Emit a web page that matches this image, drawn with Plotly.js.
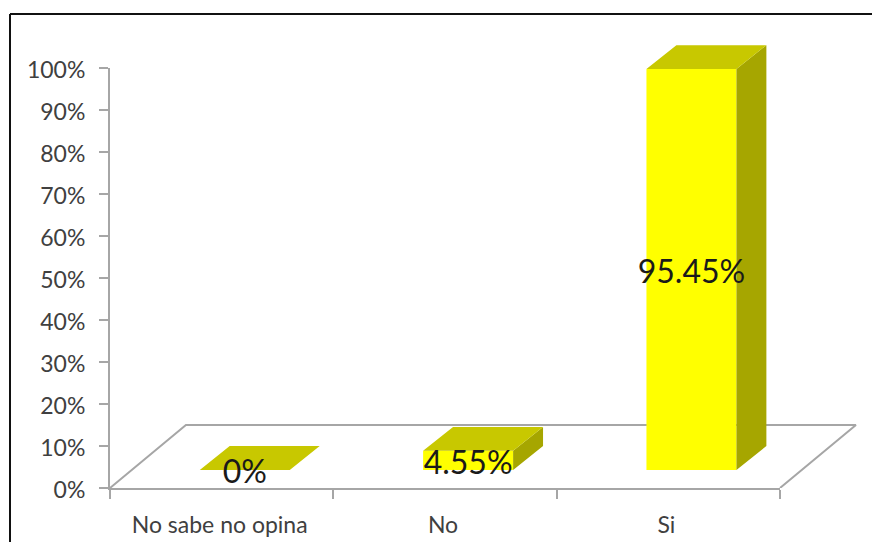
<!DOCTYPE html>
<html>
<head>
<meta charset="utf-8">
<script src="https://cdn.plot.ly/plotly-3.0.1.min.js"></script>
<style>html,body{margin:0;padding:0;background:#fff;overflow:hidden}#c{width:872px;height:542px}</style>
</head>
<body>
<div id="c"></div>
<script>
const categories = ["No sabe no opina", "No", "Si"];
const values = [0, 4.55, 95.45];
const labels = ["0%", "4.55%", "95.45%"];
const centers = [0.5, 1.5, 2.5];
const boundaries = [0, 1, 2, 3];
const yTicks = [0,10,20,30,40,50,60,70,80,90,100];

// 3D look, in axis units
const floorDx = 0.34, floorDy = 15;
const barShift = 0.1035, barBase = 4.29, barWidth = 0.403;
const depthDx = 0.134, depthDy = 5.7;
const labelDrop = 1.3;

const sideX = [], sideY = [], topX = [], topY = [];
centers.forEach((c, i) => {
  const x0 = c + barShift - barWidth / 2, x1 = x0 + barWidth;
  const t = barBase + values[i];
  sideX.push(x1, x1 + depthDx, x1 + depthDx, x1, x1, null);
  sideY.push(barBase, barBase + depthDy, t + depthDy, t, barBase, null);
  topX.push(x0, x1, x1 + depthDx, x0 + depthDx, x0, null);
  topY.push(t, t, t + depthDy, t + depthDy, t, null);
});

// plot frame (axes) and the larger area the 3D faces may extend into
const L = 110, R = 780, T = 68, B = 488;
const bigR = 862, bigT = 38;
const xFrac = (R - L) / (bigR - L), yFrac = (B - T) / (B - bigT);
const bigXRange = [0, 3 / xFrac], bigYRange = [0, 100 / yFrac];

const traces = [
  { type: "scatter", mode: "markers", x: centers, y: values, marker: { opacity: 0 }, hoverinfo: "skip", xaxis: "x", yaxis: "y" },
  { type: "scatter", mode: "lines", x: [0, floorDx, 3 + floorDx, 3], y: [0, floorDy, floorDy, 0],
    line: { color: "#a6a6a6", width: 2 }, hoverinfo: "skip", xaxis: "x2", yaxis: "y2" },
  { type: "bar", x: centers, y: values, base: barBase, width: barWidth, offset: barShift - barWidth / 2,
    marker: { color: "#ffff00", line: { width: 0 } }, xaxis: "x3", yaxis: "y3" },
  { type: "scatter", mode: "lines", x: sideX, y: sideY, fill: "toself", fillcolor: "#a6a600",
    line: { width: 0, color: "#a6a600" }, hoverinfo: "skip", xaxis: "x3", yaxis: "y3" },
  { type: "scatter", mode: "lines", x: topX, y: topY, fill: "toself", fillcolor: "#c8c800",
    line: { width: 0, color: "#c8c800" }, hoverinfo: "skip", xaxis: "x3", yaxis: "y3" },
  { type: "scatter", mode: "text", x: centers.map(c => c + barShift), y: values.map(v => barBase + v / 2 - labelDrop),
    text: labels, textposition: "middle center", textfont: { family: "Lato", size: 32, color: "#1a1a1a" },
    hoverinfo: "skip", xaxis: "x3", yaxis: "y3" }
];

const px = v => (v - L) / (bigR - L), py = v => (B - v) / (B - bigT);
const frame = { color: "#111", width: 2 };
const hidden = r => ({ range: r, visible: false, domain: [0, 1] });

const layout = {
  width: 872, height: 542,
  margin: { l: L, r: 872 - bigR, t: bigT, b: 542 - B, pad: 0 },
  paper_bgcolor: "#fff", plot_bgcolor: "rgba(0,0,0,0)",
  showlegend: false,
  font: { family: "Lato", color: "#404040" },
  xaxis: {
    domain: [0, xFrac], anchor: "y",
    range: [0, 3], tickmode: "array", tickvals: centers, ticktext: categories,
    ticks: "", showgrid: false, zeroline: false, showline: true, linecolor: "#a6a6a6", linewidth: 2,
    tickfont: { family: "Lato", size: 23, color: "#404040" }, ticklabelstandoff: 15, ticklabelshift: -2,
    minor: { tickmode: "array", tickvals: boundaries, ticks: "outside", ticklen: 9, tickwidth: 2, tickcolor: "#a6a6a6", showgrid: false }
  },
  yaxis: {
    domain: [0, yFrac], anchor: "x",
    range: [0, 100], tickmode: "array", tickvals: yTicks, ticktext: yTicks.map(v => v + "%"),
    ticks: "outside", ticklen: 9, tickwidth: 2, tickcolor: "#a6a6a6", showgrid: false, zeroline: false,
    showline: true, linecolor: "#a6a6a6", linewidth: 2,
    tickfont: { family: "Lato", size: 23, color: "#404040" }, ticklabelstandoff: 9, ticklabelshift: 2
  },
  xaxis2: Object.assign(hidden(bigXRange), { anchor: "y2" }),
  yaxis2: Object.assign(hidden(bigYRange), { anchor: "x2" }),
  xaxis3: Object.assign(hidden(bigXRange), { anchor: "y3" }),
  yaxis3: Object.assign(hidden(bigYRange), { anchor: "x3" }),
  shapes: [
    { type: "line", xref: "paper", yref: "paper", x0: px(10), x1: px(10), y0: py(14), y1: py(560), line: frame },
    { type: "line", xref: "paper", yref: "paper", x0: px(10), x1: px(880), y0: py(14), y1: py(14), line: frame }
  ]
};

Plotly.newPlot("c", traces, layout, { displayModeBar: false, staticPlot: true });
</script>
</body>
</html>
